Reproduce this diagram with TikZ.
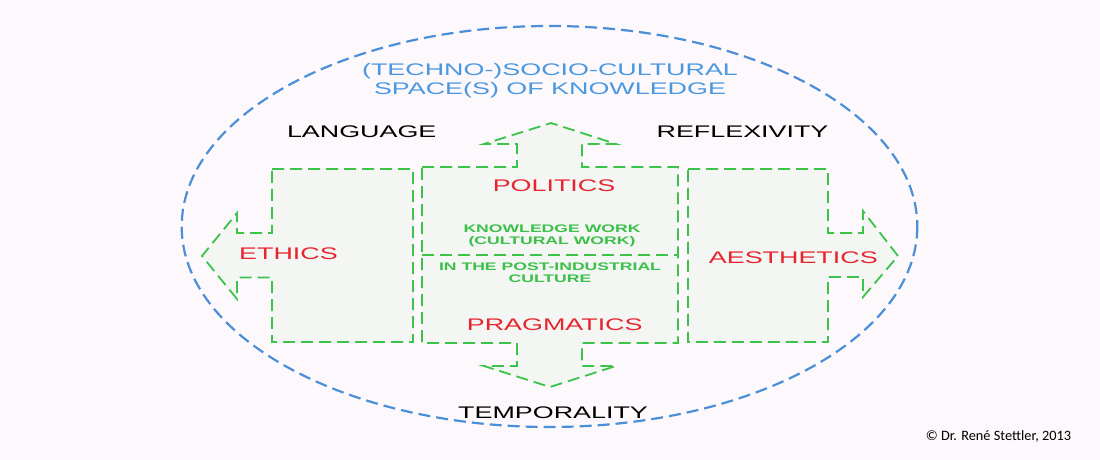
\documentclass[tikz,border=0pt]{standalone}
\usepackage{fontspec}
\setmainfont{Liberation Sans}
\newfontfamily\wide[FakeStretch=1.6]{Liberation Sans}
\newfontfamily\credit{Carlito}
\definecolor{bgc}{HTML}{FCF8FC}
\definecolor{shapefill}{HTML}{F3F6F3}
\definecolor{dgreen}{HTML}{3CC44A}
\definecolor{tgreen}{HTML}{3CC04A}
\definecolor{tred}{HTML}{E6252E}
\definecolor{tblue}{HTML}{4A98E0}
\definecolor{eblue}{HTML}{4A8FD8}
\tikzset{
  blockshape/.style={draw=dgreen, fill=shapefill, line width=1.8pt, dash pattern=on 12pt off 6pt, line join=miter},
  bigred/.style={text=tred, font=\wide\fontsize{16.8}{18}\selectfont, inner sep=0pt},
  bigblack/.style={text=black, font=\wide\fontsize{16.8}{18}\selectfont, inner sep=0pt},
  smallgreen/.style={text=tgreen, font=\wide\bfseries\fontsize{11}{12}\selectfont, align=center, inner sep=0pt},
}
\begin{document}
\begin{tikzpicture}[x=1pt,y=-1pt]
\useasboundingbox (0,0) rectangle (1100,460);
\fill[bgc] (0,0) rectangle (1100,460);
% ellipse
\draw[eblue, line width=2.2pt, dash pattern=on 12pt off 6pt] (549.5,226.5) ellipse [x radius=367.8, y radius=200.5];
% title
\node[text=tblue, font=\wide\fontsize{16.8}{18.5}\selectfont, align=center, inner sep=0pt] (title) at (550,80.5) {(TECHNO-)SOCIO-CULTURAL\\SPACE(S) OF KNOWLEDGE};
% left shape
\draw[blockshape] (272,169) -- (413,169) -- (413,342) -- (272,342) -- (272,277.5) -- (237,277.5) -- (237,299) -- (202,256) -- (237,213) -- (237,233) -- (272,233) -- cycle;
% middle shape
\draw[blockshape] (422,167) -- (517,167) -- (517,144) -- (484,144) -- (551,123) -- (616,144) -- (582,144) -- (582,167) -- (678,167) -- (678,343) -- (582,343) -- (582,366) -- (616,366) -- (550,387) -- (484,366) -- (517,366) -- (517,343) -- (422,343) -- cycle;
\coordinate (divl) at (422,255);
\coordinate (divr) at (678,255);
\draw[draw=dgreen, line width=1.8pt, dash pattern=on 12pt off 6pt] (divl) -- (divr);
% right shape
\draw[blockshape] (688,169) -- (828,169) -- (828,233) -- (863,233) -- (863,211) -- (898,256) -- (863,297) -- (863,277) -- (828,277) -- (828,342) -- (688,342) -- cycle;
% texts
\node[bigred] (ethics) at (288.5,253.5) {ETHICS};
\node[bigred] (politics) at (554,186) {POLITICS};
\node[bigred] (pragmatics) at (554.7,325) {PRAGMATICS};
\node[bigred] (aesthetics) at (793.3,258) {AESTHETICS};
\node[smallgreen] (kw) at (552,235.5) {KNOWLEDGE WORK\\(CULTURAL WORK)};
\node[smallgreen] (pi) at (550,272.5) {IN THE POST-INDUSTRIAL\\CULTURE};
\node[bigblack] (language) at (361.7,131.7) {LANGUAGE};
\node[bigblack] (reflexivity) at (742.5,131.7) {REFLEXIVITY};
\node[bigblack] (temporality) at (553,412.5) {TEMPORALITY};
\node[font=\credit\fontsize{14.3}{16}\selectfont, inner sep=0pt, anchor=west] (copy) at (925.7,436.5) {© Dr. René Stettler, 2013};
\end{tikzpicture}
\end{document}
